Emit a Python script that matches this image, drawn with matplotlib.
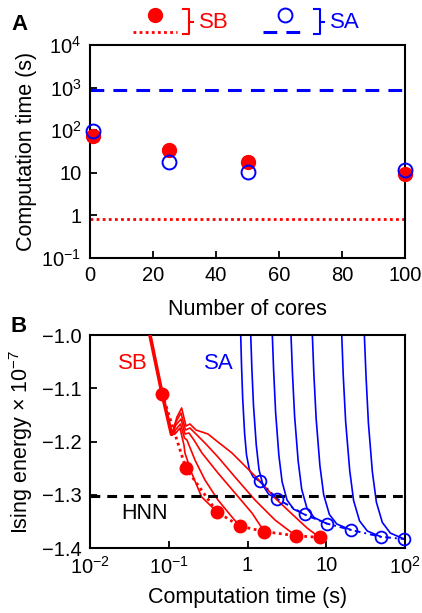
import matplotlib
matplotlib.use('Agg')
import matplotlib.pyplot as plt
from matplotlib.ticker import FixedLocator, FixedFormatter, NullLocator

plt.rcParams['font.family'] = ['Liberation Sans', 'DejaVu Sans']
plt.rcParams['mathtext.default'] = 'regular'
plt.rcParams['font.size'] = 12

# ---- panel A data ----
cores = [1, 25, 50, 100]
sb_time = [72, 34, 18, 9.4]
sa_time = [96, 18, 10.3, 11.8]
sb_single = 0.81     # dotted red reference line
sa_single = 880      # dashed blue reference line

# ---- panel B data ----
sb_pts_x = [0.083, 0.165, 0.41, 0.80, 1.63, 4.1, 8.2]
sb_pts_y = [-1.111, -1.250, -1.332, -1.359, -1.369, -1.377, -1.380]
sa_pts_x = [1.44, 2.40, 5.3, 10.1, 20.5, 49.5, 97]
sa_pts_y = [-1.275, -1.308, -1.337, -1.354, -1.366, -1.379, -1.383]

# common steep SB start
sb_start_x = [0.0578, 0.0828, 0.109]
sb_start_y = [-1.0, -1.1114, -1.1878]

# SB trajectories branching from the start (ending at points 3..7)
sb_curves = [
    ([0.109, 0.1201, 0.139, 0.1562, 0.1608, 0.1956, 0.262, 0.41],
     [-1.1878, -1.1859, -1.1746, -1.2066, -1.2216, -1.2592, -1.3042, -1.332]),
    ([0.109, 0.1218, 0.141, 0.1585, 0.1705, 0.2154, 0.2886, 0.422, 0.6355, 0.80],
     [-1.1878, -1.1784, -1.1671, -1.1934, -1.1972, -1.2347, -1.2723, -1.3099, -1.3418, -1.359]),
    ([0.109, 0.1237, 0.1432, 0.1608, 0.1807, 0.2092, 0.2644, 0.422, 0.6938, 1.1405, 1.63],
     [-1.1878, -1.169, -1.1577, -1.1859, -1.184, -1.1972, -1.2216, -1.2592, -1.2967, -1.3343, -1.369]),
    ([0.109, 0.1254, 0.1432, 0.1632, 0.1861, 0.2218, 0.2886, 0.422, 0.6938, 1.245, 2.235, 4.1],
     [-1.1878, -1.1615, -1.1465, -1.1784, -1.1746, -1.1859, -1.2028, -1.2291, -1.2667, -1.3099, -1.3474, -1.377]),
    ([0.109, 0.1273, 0.146, 0.1656, 0.1861, 0.2218, 0.3151, 0.422, 0.6355, 0.9296, 1.359, 2.301, 3.674, 5.695, 8.2],
     [-1.1878, -1.154, -1.137, -1.1709, -1.1671, -1.1784, -1.1859, -1.2009, -1.2216, -1.246, -1.2704, -1.308, -1.3362, -1.3624, -1.380]),
]

# SA trajectories (one per run length)
sa_curves = [
    ([0.820, 0.839, 0.868, 0.918, 0.972, 1.057, 1.184, 1.44],
     [-1.0, -1.055, -1.118, -1.184, -1.2255, -1.253, -1.267, -1.275]),
    ([1.099, 1.135, 1.191, 1.291, 1.400, 1.579, 1.856, 2.40],
     [-1.0, -1.062, -1.132, -1.206, -1.253, -1.283, -1.299, -1.308]),
    ([2.065, 2.146, 2.273, 2.500, 2.751, 3.176, 3.845, 5.3],
     [-1.0, -1.067, -1.145, -1.226, -1.276, -1.310, -1.327, -1.337]),
    ([3.565, 3.717, 3.958, 4.395, 4.875, 5.70, 7.03, 10.1],
     [-1.0, -1.071, -1.152, -1.237, -1.290, -1.326, -1.343, -1.354]),
    ([6.65, 6.95, 7.43, 8.29, 9.26, 10.94, 13.6, 20.5],
     [-1.0, -1.073, -1.157, -1.245, -1.300, -1.337, -1.355, -1.366]),
    ([15.7, 16.4, 17.6, 19.8, 22.2, 26.4, 33.1, 49.5],
     [-1.0, -1.076, -1.163, -1.254, -1.311, -1.349, -1.368, -1.379]),
    ([30.4, 31.9, 34.2, 38.4, 43.2, 51.4, 65.0, 97],
     [-1.0, -1.077, -1.165, -1.257, -1.314, -1.352, -1.372, -1.383]),
]
hnn_energy = -1.303

RED = '#ff0000'
BLUE = '#0000ff'

fig = plt.figure(figsize=(4.22, 6.13), dpi=100)
axA = fig.add_axes([0.213, 0.579, 0.747, 0.3475])
axB = fig.add_axes([0.213, 0.106, 0.747, 0.3475])

for ax in (axA, axB):
    for s in ax.spines.values():
        s.set_linewidth(1.5)
    ax.tick_params(direction='in', width=1.3, length=5, labelsize=14.5, pad=6)

# ---------- A ----------
axA.set_yscale('log')
axA.axhline(sa_single, color=BLUE, lw=2.2, dashes=(4.5, 3), zorder=2)
axA.axhline(sb_single, color=RED, lw=2, linestyle=(0, (1, 1.2)), zorder=2)
axA.plot(cores, sb_time, 'o', color=RED, ms=10, zorder=3, clip_on=False)
axA.plot(cores, sa_time, 'o', mfc='none', mec=BLUE, mew=1.4, ms=10, zorder=4, clip_on=False)
axA.set_xlim(0, 100)
axA.set_ylim(0.1, 1e4)
axA.set_xticks([0, 20, 40, 60, 80, 100])
axA.yaxis.set_major_locator(FixedLocator([0.1, 1, 10, 100, 1000, 10000]))
axA.yaxis.set_major_formatter(FixedFormatter(['$10^{-1}$', '1', '10', '$10^{2}$', '$10^{3}$', '$10^{4}$']))
axA.yaxis.set_minor_locator(NullLocator())
axA.set_xlabel('Number of cores', fontsize=15.5, labelpad=10)
axA.set_ylabel('Computation time (s)', fontsize=15.5, labelpad=3)

# ---------- B ----------
axB.set_xscale('log')
for cx, cy in sa_curves:
    axB.plot(cx, cy, color=BLUE, lw=1.2, zorder=2)
axB.plot(sb_start_x, sb_start_y, color=RED, lw=2.6, zorder=3, solid_capstyle='butt')
for cx, cy in sb_curves:
    axB.plot(cx, cy, color=RED, lw=1.2, zorder=3)
axB.axhline(hnn_energy, color='black', lw=2.2, dashes=(3.2, 2.3), zorder=4)
axB.plot(sb_pts_x, sb_pts_y, color=RED, lw=2, linestyle=(0, (1, 1.3)), zorder=4)
axB.plot(sb_pts_x, sb_pts_y, 'o', color=RED, ms=9, zorder=5)
axB.plot(sa_pts_x, sa_pts_y, color=BLUE, lw=1.4, linestyle=(0, (3, 2, 1, 2)), zorder=4)
axB.plot(sa_pts_x, sa_pts_y, 'o', mfc='none', mec=BLUE, mew=1.3, ms=8.5, zorder=5, clip_on=False)
axB.set_xlim(0.01, 100)
axB.set_ylim(-1.4, -1.0)
axB.xaxis.set_major_locator(FixedLocator([0.01, 0.1, 1, 10, 100]))
axB.xaxis.set_major_formatter(FixedFormatter(['$10^{-2}$', '$10^{-1}$', '1', '10', '$10^{2}$']))
axB.xaxis.set_minor_locator(NullLocator())
axB.set_yticks([-1.4, -1.3, -1.2, -1.1, -1.0])
axB.set_yticklabels(['\u22121.4', '\u22121.3', '\u22121.2', '\u22121.1', '\u22121.0'])
axB.set_xlabel('Computation time (s)', fontsize=15.5, labelpad=6)
axB.set_ylabel('Ising energy \u00d7 10$^{-7}$', fontsize=15.5, labelpad=5)
axB.text(0.0355, -1.053, 'SB', color=RED, fontsize=16, ha='center', va='center')
axB.text(0.43, -1.053, 'SA', color=BLUE, fontsize=16, ha='center', va='center')
axB.text(0.05, -1.335, 'HNN', color='black', fontsize=15.5, ha='center', va='center')

# ---------- legend + panel letters (pixel coordinates) ----------
lg = fig.add_axes([0, 0, 1, 1])
lg.set_xlim(0, 422)
lg.set_ylim(613, 0)
lg.axis('off')
lg.plot([155], [15], 'o', color=RED, ms=10)
lg.plot([133, 177], [32, 32], color=RED, lw=2, linestyle=(0, (1, 1.2)))
lg.plot([183, 189, 189, 183], [9, 9, 34, 34], color=RED, lw=1.5)
lg.plot([189, 193], [21.5, 21.5], color=RED, lw=1.5)
lg.text(199, 22, 'SB', color=RED, fontsize=16, va='center')
lg.plot([285], [15], 'o', mfc='none', mec=BLUE, mew=1.4, ms=10)
lg.plot([263, 307], [32, 32], color=BLUE, lw=2.2, dashes=(4.5, 3))
lg.plot([314, 320, 320, 314], [9, 9, 34, 34], color=BLUE, lw=1.5)
lg.plot([320, 324], [21.5, 21.5], color=BLUE, lw=1.5)
lg.text(330, 22, 'SA', color=BLUE, fontsize=16, va='center')
lg.text(11, 25, 'A', fontsize=16, fontweight='bold', va='center')
lg.text(11, 327, 'B', fontsize=16, fontweight='bold', va='center')

fig.savefig('out.png', dpi=100)
